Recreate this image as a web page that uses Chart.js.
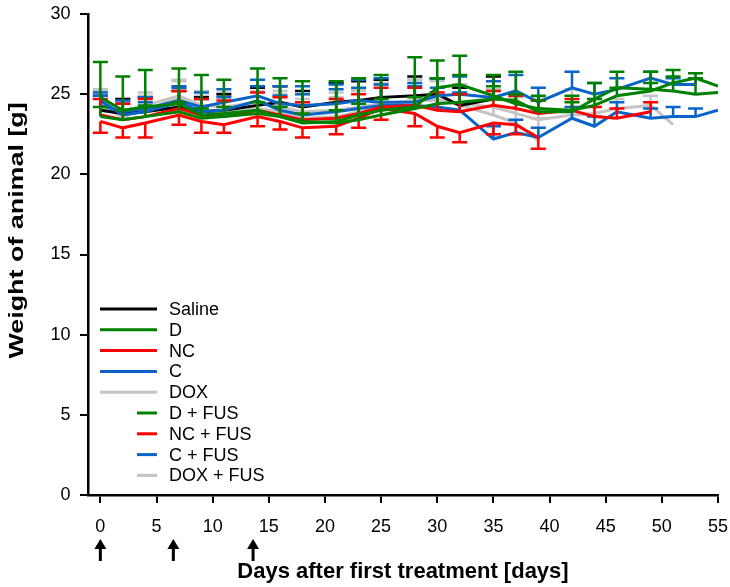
<!DOCTYPE html>
<html>
<head>
<meta charset="utf-8">
<script src="https://cdn.jsdelivr.net/npm/chart.js@4/dist/chart.umd.min.js"></script>
<style>
  html, body { margin: 0; padding: 0; background: #fff; }
  #wrap { width: 730px; height: 587px; }
</style>
</head>
<body>
<div id="wrap"><canvas id="c" width="730" height="587"></canvas></div>
<script>
// Measurement days after the first treatment
const days = [0, 2, 4, 7, 9, 11, 14, 16, 18, 21, 23, 25, 28, 30, 32, 35, 37, 39, 42, 44, 46, 49, 51, 53, 55];

// Treatment days marked with arrows under the axis
const treatmentDays = [0, 6.5, 13.6];

// Mean body weight [g] per group, with SEM (up = drawn above, down = drawn below)
const saline    = [24.0, 23.8, 23.9, 24.2, 23.9, 24.0, 24.3, 24.5, 24.2, 24.5, 24.6, 24.8, 24.9, 25.0, 24.3, 24.7, null, null, null, null, null, null, null, null, null];
const salineUp  = [0.9, 0.9, 0.9, 1.0, 0.9, 1.0, 1.1, 1.0, 1.0, 1.2, 1.2, 1.1, 1.2, 1.0, 1.1, 1.4, null, null, null, null, null, null, null, null, null];

const dGrp      = [24.8, 24.0, 24.2, 24.4, 23.7, 23.8, 24.0, 23.6, 23.3, 23.2, 23.4, 23.7, 24.1, 24.4, 24.5, 24.7, 24.6, 23.9, 23.9, 24.7, 25.4, 25.3, 25.2, 25.0, 25.1];
const dUp       = [2.2, 2.1, 2.3, 2.2, 2.5, 2.1, 2.6, 2.4, 2.5, 2.6, 2.6, 2.5, 3.2, 2.7, 2.9, 1.5, 1.8, 1.0, 1.0, 1.0, 1.0, 1.1, 1.3, 1.0, null];

const ncGrp     = [23.3, 22.9, 23.2, 23.7, 23.3, 23.1, 23.6, 23.3, 22.9, 23.0, 23.5, 24.1, 23.8, 23.0, 22.6, 23.2, 23.1, 22.3, null, null, null, null, null, null, null];
const ncDown    = [0.7, 0.6, 0.9, 0.6, 0.7, 0.5, 0.6, 0.5, 0.6, 0.5, 0.6, 0.7, 0.8, 0.7, 0.6, 0.7, 0.6, 0.7, null, null, null, null, null, null, null];

const cGrp      = [24.6, 23.7, 23.9, 24.5, 23.9, 24.0, 24.6, 24.0, 23.7, 23.9, 24.1, 24.3, 24.3, 24.2, 24.0, 22.2, 22.6, 22.3, 23.5, 23.0, 23.9, 23.5, 23.6, 23.6, 24.0];
const cUp       = [0.5, 0.7, 0.6, 0.9, 0.8, 0.8, 0.9, 0.9, 1.3, 1.4, 1.3, 1.3, 1.2, 1.2, 1.1, 0.8, 0.8, 0.6, 0.7, 0.6, 0.6, 0.6, 0.6, 0.5, null];

const doxGrp    = [24.2, 23.6, 24.0, 24.8, 24.0, 23.9, 24.1, 23.9, 23.5, 23.6, 23.9, 24.3, 24.6, 24.7, 24.3, 23.7, 23.2, 22.1, null, null, null, null, null, null, null];
const doxUp     = [1.0, 0.9, 0.9, 1.0, 0.9, 1.0, 1.1, 1.1, 1.2, 1.2, 1.3, 1.4, 1.3, 1.2, 1.3, 1.6, 1.6, 1.4, null, null, null, null, null, null, null];

const dFus      = [23.6, 23.4, 23.6, 23.9, 23.5, 23.6, 23.8, 23.6, 23.2, 23.3, 23.7, 24.0, 24.2, 25.4, 25.6, 24.9, 24.4, 24.1, 24.0, 24.3, 24.9, 25.2, 25.7, 26.0, 25.5];
const dFusUp    = [0.6, 0.6, 0.7, 0.6, 0.6, 0.6, 0.7, 0.6, 0.6, 0.7, 0.7, 0.7, 0.6, 0.6, 0.6, 0.6, 0.6, 0.5, 0.5, 0.4, 0.5, 0.5, 0.4, 0.3, null];

const ncFus     = [23.7, 23.4, 23.6, 24.1, 23.7, 23.6, 24.0, 23.7, 23.4, 23.5, 23.8, 24.2, 24.3, 24.0, 23.9, 24.3, 24.1, 23.8, 24.0, 23.6, 23.5, 23.9, null, null, null];
const ncFusUp   = [1.0, 1.0, 1.1, 1.1, 1.0, 1.0, 1.1, 1.1, 1.1, 1.2, 1.2, 1.2, 1.1, 1.1, 1.1, 0.9, 0.8, 0.8, 0.7, 0.6, 0.6, 0.6, null, null, null];

const cFus      = [24.3, 23.9, 24.1, 24.6, 24.2, 24.5, 24.9, 24.4, 24.3, 24.4, 24.6, 24.5, 24.5, 24.9, 25.0, 24.8, 25.2, 24.5, 25.4, 25.0, 25.3, 26.0, 25.6, 25.6, null];
const cFusUp    = [0.6, 0.7, 0.7, 0.9, 0.9, 0.8, 1.0, 1.1, 1.2, 1.2, 1.3, 1.5, 1.2, 1.1, 1.1, 1.0, 1.0, 0.9, 1.0, 0.7, 0.7, 0.4, 0.4, 0.4, null];

const doxFus    = [24.5, 23.9, 24.3, 24.9, 24.3, 24.2, 24.5, 24.2, 23.9, 24.0, 24.2, 24.4, 24.6, 24.6, 24.4, 24.2, 23.8, 23.4, 23.7, 23.8, 24.1, 24.3, 23.1, null, null];
const doxFusUp  = [0.8, 0.8, 0.8, 1.0, 0.9, 0.9, 1.0, 1.0, 1.1, 1.1, 1.1, 1.2, 1.3, 1.2, 1.2, 1.0, 1.0, 1.4, 1.6, 0.9, 0.6, 0.6, null, null, null];

const yTicks = [0, 5, 10, 15, 20, 25, 30];
const xTicks = [0, 5, 10, 15, 20, 25, 30, 35, 40, 45, 50, 55];
const yTitle = 'Weight of animal [g]';

const FONT = '"Liberation Sans", Arial, Helvetica, sans-serif';
const BLACK = '#000000', GREEN = '#008000', RED = '#ff0000', BLUE = '#0a64c8', GREY = '#c4c4c4';

function series(values, up, down) {
  return days.map((d, i) => ({
    x: d,
    y: values[i],
    up: up ? up[i] : null,
    down: down ? down[i] : null
  }));
}

function lineSet(label, values, up, down, color, fus) {
  return {
    label: label,
    data: series(values, up, down),
    borderColor: color,
    backgroundColor: color,
    borderWidth: 3,
    pointRadius: 0,
    pointHoverRadius: 0,
    tension: 0,
    spanGaps: false,
    fill: false,
    fus: fus
  };
}

const datasets = [
  lineSet('Saline',     saline, salineUp, null,   BLACK, false),
  lineSet('D',          dGrp,   dUp,      null,   GREEN, false),
  lineSet('NC',         ncGrp,  null,     ncDown, RED,   false),
  lineSet('C',          cGrp,   cUp,      null,   BLUE,  false),
  lineSet('DOX',        doxGrp, doxUp,    null,   GREY,  false),
  lineSet('D + FUS',    dFus,   dFusUp,   null,   GREEN, true),
  lineSet('NC + FUS',   ncFus,  ncFusUp,  null,   RED,   true),
  lineSet('C + FUS',    cFus,   cFusUp,   null,   BLUE,  true),
  lineSet('DOX + FUS',  doxFus, doxFusUp, null,   GREY,  true)
];

// Draw order: grey at the back, green on top
const drawOrder = { 'DOX': 9, 'DOX + FUS': 8, 'Saline': 7, 'C': 6, 'C + FUS': 5, 'NC': 4, 'NC + FUS': 3, 'D + FUS': 2, 'D': 1 };
datasets.forEach(ds => { ds.order = drawOrder[ds.label]; });

// SEM whiskers with caps, drawn right after each line
const errorBars = {
  id: 'errorBars',
  afterDatasetDraw(chart, args) {
    const ds = chart.data.datasets[args.index];
    const xs = chart.scales.x, ys = chart.scales.y;
    const ctx = chart.ctx;
    ctx.save();
    ctx.strokeStyle = ds.borderColor;
    ctx.lineWidth = 2.5;
    ctx.setLineDash([]);
    ctx.lineCap = 'butt';
    ds.data.forEach(p => {
      if (p.y == null) return;
      const px = xs.getPixelForValue(p.x);
      const py = ys.getPixelForValue(p.y);
      [[p.up, 1], [p.down, -1]].forEach(([e, s]) => {
        if (e == null) return;
        const pe = ys.getPixelForValue(p.y + s * e);
        ctx.beginPath();
        ctx.moveTo(px, py);
        ctx.lineTo(px, pe);
        ctx.moveTo(px - 7.5, pe);
        ctx.lineTo(px + 7.5, pe);
        ctx.stroke();
      });
    });
    ctx.restore();
  }
};

// Group key inside the plot, lower left
const groupKey = {
  id: 'groupKey',
  afterDraw(chart) {
    const ctx = chart.ctx;
    const area = chart.chartArea;
    const x0 = area.left + 12, x1 = area.left + 69, xs = area.left + 49;
    const y0 = area.top + 295, step = 20.8;
    ctx.save();
    ctx.font = '18px ' + FONT;
    ctx.textBaseline = 'middle';
    ctx.textAlign = 'left';
    datasets.forEach((ds, i) => {
      const y = y0 + i * step;
      ctx.strokeStyle = ds.borderColor;
      ctx.lineWidth = 3;
      ctx.beginPath();
      ctx.moveTo(ds.fus ? xs : x0, y);
      ctx.lineTo(x1, y);
      ctx.stroke();
      ctx.fillStyle = BLACK;
      ctx.fillText(ds.label, area.left + 81, y + 1);
    });
    ctx.restore();
  }
};

// Vertical axis title, set in a wide bold face beside the axis
const weightTitle = {
  id: 'weightTitle',
  afterDraw(chart) {
    const ctx = chart.ctx;
    const ys = chart.scales.y;
    ctx.save();
    ctx.translate(ys.left + 17, ys.getPixelForValue(16.5));
    ctx.rotate(-Math.PI / 2);
    ctx.scale(1.28, 1);
    ctx.font = 'bold 21px ' + FONT;
    ctx.fillStyle = BLACK;
    ctx.textAlign = 'center';
    ctx.textBaseline = 'middle';
    ctx.fillText(yTitle, 0, 0);
    ctx.restore();
  }
};

// Arrows for the treatment days below the day labels
const treatmentArrows = {
  id: 'treatmentArrows',
  afterDraw(chart) {
    const ctx = chart.ctx;
    const xs = chart.scales.x;
    const tip = 539, base = 561;
    ctx.save();
    ctx.fillStyle = BLACK;
    ctx.strokeStyle = BLACK;
    ctx.lineWidth = 3;
    treatmentDays.forEach(d => {
      const px = xs.getPixelForValue(d);
      ctx.beginPath();
      ctx.moveTo(px, base);
      ctx.lineTo(px, tip + 8);
      ctx.stroke();
      ctx.beginPath();
      ctx.moveTo(px, tip);
      ctx.lineTo(px - 6, tip + 10);
      ctx.lineTo(px + 6, tip + 10);
      ctx.closePath();
      ctx.fill();
    });
    ctx.restore();
  }
};

new Chart(document.getElementById('c'), {
  type: 'line',
  data: { datasets: datasets },
  options: {
    responsive: false,
    animation: false,
    events: [],
    layout: { padding: { top: 0, right: 0, bottom: 0, left: 0 } },
    plugins: {
      legend: { display: false },
      tooltip: { enabled: false },
      title: { display: false }
    },
    scales: {
      x: {
        type: 'linear',
        min: -1.1,
        max: 55,
        afterFit(scale) { scale.height = 92; },
        afterBuildTicks(scale) { scale.ticks = xTicks.map(v => ({ value: v })); },
        border: { display: true, color: BLACK, width: 2.5 },
        grid: { display: true, drawOnChartArea: false, drawTicks: true, tickLength: 8, color: BLACK, lineWidth: 2 },
        ticks: { color: BLACK, font: { family: FONT, size: 18, lineHeight: 2.4 }, padding: 2, maxRotation: 0, autoSkip: false, includeBounds: false },
        title: {
          display: true,
          text: 'Days after first treatment [days]',
          color: BLACK,
          font: { family: FONT, size: 22, weight: 'bold' },
          padding: { top: 0, bottom: 2 }
        }
      },
      y: {
        type: 'linear',
        min: 0,
        max: 30,
        afterFit(scale) { scale.width = 88; },
        afterBuildTicks(scale) { scale.ticks = yTicks.map(v => ({ value: v })); },
        border: { display: true, color: BLACK, width: 2.5 },
        grid: { display: true, drawOnChartArea: false, drawTicks: true, tickLength: 8, color: BLACK, lineWidth: 2 },
        ticks: { color: BLACK, font: { family: FONT, size: 18, lineHeight: 0.5 }, padding: 9.5, autoSkip: false },
        title: { display: false }
      }
    }
  },
  plugins: [errorBars, groupKey, weightTitle, treatmentArrows]
});
</script>
</body>
</html>
